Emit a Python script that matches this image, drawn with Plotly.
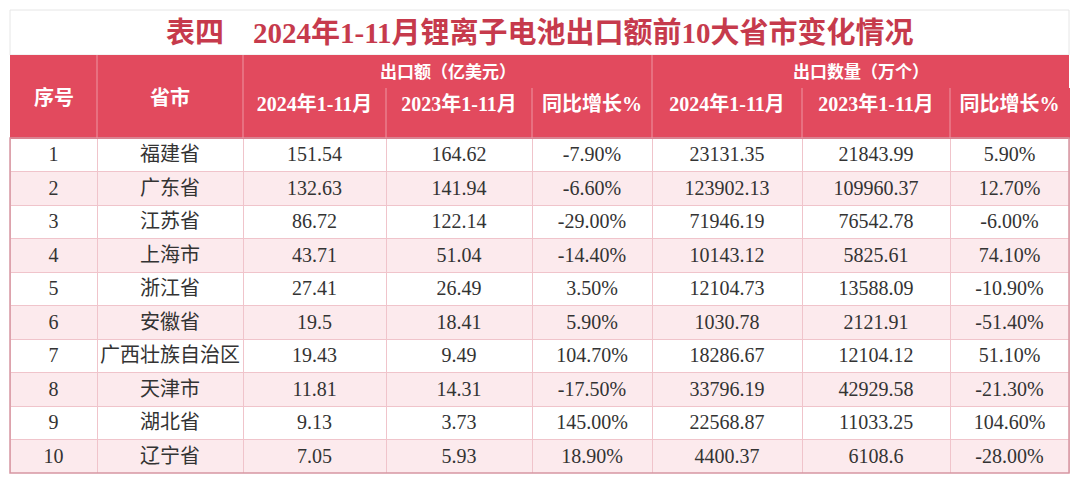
import plotly.graph_objects as go

# --- data ---
title_text = "表四　2024年1-11月锂离子电池出口额前10大省市变化情况"
col_labels = ["序号", "省市"]
group_labels = ["出口额（亿美元）", "出口数量（万个）"]
sub_labels = ["2024年1-11月", "2023年1-11月", "同比增长%"]

rank = [1, 2, 3, 4, 5, 6, 7, 8, 9, 10]
province = ["福建省", "广东省", "江苏省", "上海市", "浙江省",
            "安徽省", "广西壮族自治区", "天津市", "湖北省", "辽宁省"]
amount_2024 = [151.54, 132.63, 86.72, 43.71, 27.41, 19.5, 19.43, 11.81, 9.13, 7.05]
amount_2023 = [164.62, 141.94, 122.14, 51.04, 26.49, 18.41, 9.49, 14.31, 3.73, 5.93]
amount_yoy = [-7.9, -6.6, -29.0, -14.4, 3.5, 5.9, 104.7, -17.5, 145.0, 18.9]
qty_2024 = [23131.35, 123902.13, 71946.19, 10143.12, 12104.73,
            1030.78, 18286.67, 33796.19, 22568.87, 4400.37]
qty_2023 = [21843.99, 109960.37, 76542.78, 5825.61, 13588.09,
            2121.91, 12104.12, 42929.58, 11033.25, 6108.6]
qty_yoy = [5.9, 12.7, -6.0, 74.1, -10.9, -51.4, 51.1, -21.3, 104.6, -28.0]

# --- layout constants (pixels in the window) ---
W, H = 1080, 484
OFF = 8  # page body margin
col_w = [87, 146, 143, 146, 120, 150, 148, 119]
x0 = 10
edges = [x0]
for w in col_w:
    edges.append(edges[-1] + w)
y_title, y_head1, y_head2, y_body, y_end = 10, 55, 88, 138, 473
row_h = (y_end - y_body) / len(rank)

RED = "rgb(226,74,94)"
TITLE_RED = "rgb(198,58,76)"
PINK = "rgb(252,234,237)"
LINE = "rgb(240,196,203)"
TXT = "rgb(51,51,51)"
FONT = "Liberation Serif, Noto Sans CJK SC, serif"


def px(x):
    return (x - OFF) / W


def py(y):
    return 1 - (y - OFF) / H


def pct(v):
    return f"{v:.2f}%"


cells = [
    [str(r) for r in rank],
    province,
    [str(v) for v in amount_2024],
    [str(v) for v in amount_2023],
    [pct(v) for v in amount_yoy],
    [str(v) for v in qty_2024],
    [str(v) for v in qty_2023],
    [pct(v) for v in qty_yoy],
]
fills = [["white" if i % 2 == 0 else PINK for i in range(len(rank))]] * len(col_w)

fig = go.Figure(go.Table(
    domain=dict(x=[px(edges[0]), px(edges[-1])], y=[py(y_end + 0.5), py(y_head2)]),
    columnwidth=col_w,
    header=dict(values=["", ""] + sub_labels * 2,
                height=y_body - y_head2,
                fill_color=RED, line_color=RED, align="center",
                font=dict(family=FONT, size=20, color="white", weight="bold")),
    cells=dict(values=cells, height=row_h, fill_color=fills,
               line_color=LINE, align="center",
               font=dict(family=FONT, size=20, color=TXT)),
))

shapes = [
    # title box
    dict(type="rect", x0=px(edges[0]), x1=px(edges[-1]), y0=py(y_head1), y1=py(y_title),
         line=dict(color="rgb(230,230,230)", width=1), fillcolor="white"),
    # top header band
    dict(type="rect", x0=px(edges[0]), x1=px(edges[-1]), y0=py(y_head2 + 1), y1=py(y_head1),
         line=dict(width=0), fillcolor=RED),
    # outline round the body
    dict(type="rect", x0=px(edges[0]), x1=px(edges[-1]), y0=py(y_end), y1=py(y_body),
         line=dict(color="rgb(214,150,162)", width=1.5)),
]
# header vertical separators
for i, e in enumerate(edges[1:-1], start=1):
    top = y_head1 if i in (1, 2, 5) else y_head2
    shapes.append(dict(type="line", x0=px(e), x1=px(e), y0=py(y_body), y1=py(top),
                       line=dict(color="rgb(238,150,162)", width=1)))

ann = [dict(text=title_text, x=px((edges[0] + edges[-1]) / 2), y=py((y_title + y_head1) / 2),
            showarrow=False,
            font=dict(family=FONT, size=29, color=TITLE_RED, weight="bold"))]
for i, lab in enumerate(col_labels):
    ann.append(dict(text=lab, x=px((edges[i] + edges[i + 1]) / 2), y=py(97), showarrow=False,
                    font=dict(family=FONT, size=20, color="white", weight="bold")))
for g, lab in enumerate(group_labels):
    a, b = edges[2 + 3 * g], edges[5 + 3 * g]
    ann.append(dict(text=lab, x=px((a + b) / 2), y=py((y_head1 + y_head2) / 2 + 1), showarrow=False,
                    font=dict(family=FONT, size=17, color="white", weight="bold")))
for a in ann:
    a.update(xref="paper", yref="paper", xanchor="center", yanchor="middle")

fig.update_layout(width=W, height=H, margin=dict(l=0, r=0, t=0, b=0),
                  paper_bgcolor="white", plot_bgcolor="white",
                  shapes=shapes, annotations=ann)
fig.write_html("out.html")
